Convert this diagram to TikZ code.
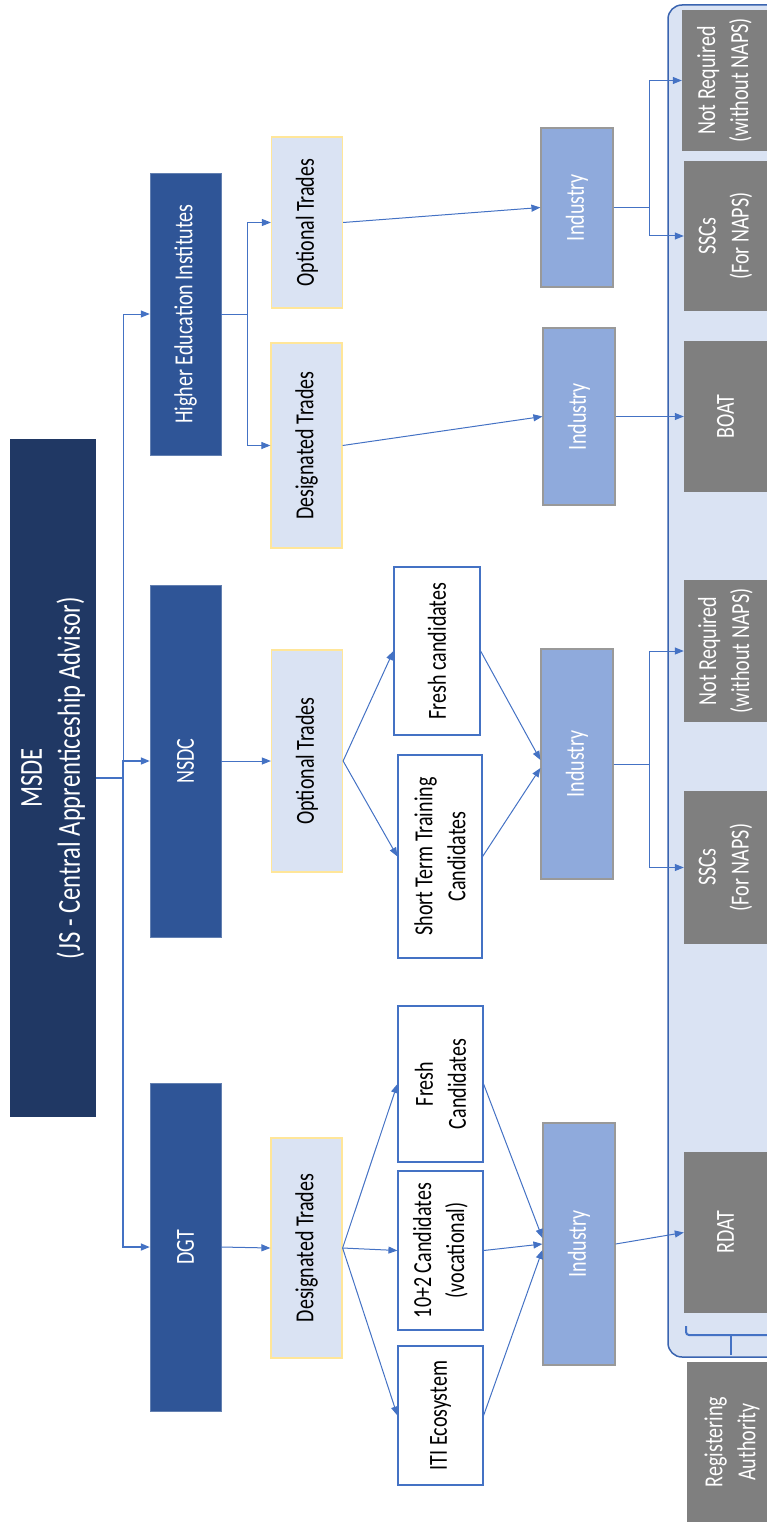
\documentclass[tikz,border=0pt]{standalone}
\usepackage{fontspec}
\setmainfont{Carlito}[FakeStretch=0.77]
\usetikzlibrary{arrows.meta}

\definecolor{msdeblue}{HTML}{203864}
\definecolor{orgblue}{HTML}{2F5597}
\definecolor{paleblue}{HTML}{DAE3F3}
\definecolor{paleyellow}{HTML}{FFE699}
\definecolor{linkblue}{HTML}{4472C4}
\definecolor{frameblue}{HTML}{3A64B0}
\definecolor{indblue}{HTML}{8FAADC}
\definecolor{indgrey}{HTML}{999999}
\definecolor{authgrey}{HTML}{7F7F7F}

\tikzset{
  >={Triangle[length=9pt,width=7pt]},
  box/.style={rotate=90, align=center, inner sep=0pt, font=\fontsize{26}{33}\selectfont},
  head/.style={box, fill=msdeblue, text=white, minimum height=86pt, font=\fontsize{32}{38}\selectfont},
  org/.style={box, fill=orgblue, draw=orgblue!75!white, text=white, minimum height=71pt},
  trade/.style={box, fill=paleblue, draw=paleyellow, line width=1.2pt, minimum height=71pt},
  cand/.style={box, fill=white, draw=linkblue, line width=1.2pt, minimum height=85pt},
  indus/.style={box, fill=indblue, draw=indgrey, line width=1.2pt, text=white, minimum height=72pt},
  auth/.style={box, fill=authgrey, text=white, minimum height=83pt},
  link/.style={->, draw=linkblue, line width=1pt},
}

\begin{document}
\begin{tikzpicture}[x=1pt, y=-1pt]

     \useasboundingbox (0, 0) rectangle (767, 1522);
     \clip (0, 0) rectangle (767, 1522);

     \draw [fill=paleblue, draw=frameblue, line width=1.5pt, rounded corners=14pt] (668, 5) rectangle (800, 1357);

     \node (MSDE) at (53, 778) [head, minimum width=678pt] {MSDE\\(JS - Central Apprenticeship Advisor)};

     \node (DGT) at (185.5, 1247) [org, minimum width=328pt] {DGT};
     \node (NSDC) at (185.5, 761) [org, minimum width=352pt] {NSDC};
     \node (HEI) at (185.5, 314) [org, minimum width=282pt] {Higher Education Institutes};

     \node (DT1) at (306.5, 1248) [trade, minimum width=220pt] {Designated Trades};
     \node (OT1) at (307, 761) [trade, minimum width=222pt] {Optional Trades};
     \node (DT2) at (306.5, 445.5) [trade, minimum width=205pt] {Designated Trades};
     \node (OT2) at (307, 222.5) [trade, minimum width=171pt] {Optional Trades};

     \node (ITI) at (440.5, 1415.5) [cand, minimum width=139pt] {ITI Ecosystem};
     \node (VOC) at (440.5, 1250.5) [cand, minimum width=159pt] {10+2 Candidates\\(vocational)};
     \node (FC1) at (440.5, 1084) [cand, minimum width=156pt] {Fresh\\Candidates};
     \node (STT) at (440, 856.5) [cand, minimum width=203pt, minimum height=84pt] {Short Term Training\\Candidates};
     \node (FC2) at (437, 651) [cand, minimum width=168pt, minimum height=86pt] {Fresh candidates};

     \node (IN1) at (579, 1244) [indus, minimum width=242pt] {Industry};
     \node (IN2) at (577, 764) [indus, minimum width=230pt] {Industry};
     \node (IN3) at (579, 416.5) [indus, minimum width=177pt] {Industry};
     \node (IN4) at (577, 207.5) [indus, minimum width=159pt] {Industry};

     \node (RDAT) at (725.5, 1232.5) [auth, minimum width=161pt] {RDAT};
     \node (SSC1) at (725.5, 867.5) [auth, minimum width=153pt] {SSCs\\(For NAPS)};
     \node (NR1) at (725.5, 651) [auth, minimum width=142pt] {Not Required\\(without NAPS)};
     \node (BOAT) at (725.5, 416.5) [auth, minimum width=151pt] {BOAT};
     \node (SSC2) at (725.5, 236) [auth, minimum width=150pt] {SSCs\\(For NAPS)};
     \node (NR2) at (724.5, 80.5) [auth, minimum width=141pt, minimum height=85pt] {Not Required\\(without NAPS)};
     \node (REG) at (732, 1442) [auth, minimum width=160pt, minimum height=90pt] {Registering\\Authority};

     \draw [linkblue, line width=2pt, rounded corners=3pt] (686, 1326) |- (767, 1335);
     \draw [linkblue, line width=2pt] (731, 1335) -- (731, 1355);

     \coordinate (BUS) at (123, 778);
     \draw [link, line width=1.6pt] (MSDE.south) -- (BUS) |- (DGT.north);
     \draw [link, line width=1.6pt] (MSDE.south) -- (BUS) |- (NSDC.north);
     \draw [link] (MSDE.south) -- (BUS) |- (HEI.north);

     \draw [link] (DGT.south) -- (DT1.north);
     \draw [link] (NSDC.south) -- (OT1.north);
     \coordinate (HBUS) at (247, 314);
     \draw [link] (HEI.south) -- (HBUS) |- (OT2.north);
     \draw [link] (HEI.south) -- (HBUS) |- (DT2.north);

     \draw [link] (DT1.south) -- (FC1.north);
     \draw [link] (DT1.south) -- (VOC.north);
     \draw [link] (DT1.south) -- (ITI.north);
     \draw [link] (OT1.south) -- (FC2.north);
     \draw [link] (OT1.south) -- (STT.north);

     \draw [link] (FC1.south) -- ([yshift=6pt]IN1.north);
     \draw [link] (VOC.south) -- (IN1.north);
     \draw [link] (ITI.south) -- ([yshift=-6pt]IN1.north);
     \draw [link] (FC2.south) -- ([yshift=4pt]IN2.north);
     \draw [link] (STT.south) -- ([yshift=-4pt]IN2.north);
     \draw [link] (DT2.south) -- (IN3.north);
     \draw [link] (OT2.south) -- (IN4.north);

     \draw [link] (IN1.south) -- (RDAT.north);
     \draw [link] (IN3.south) -- (BOAT.north);
     \coordinate (NBUS) at (649, 764);
     \draw [link] (IN2.south) -- (NBUS) |- (NR1.north);
     \draw [link] (IN2.south) -- (NBUS) |- (SSC1.north);
     \coordinate (OBUS) at (649, 207.5);
     \draw [link] (IN4.south) -- (OBUS) |- (NR2.north);
     \draw [link] (IN4.south) -- (OBUS) |- (SSC2.north);

\end{tikzpicture}
\end{document}
